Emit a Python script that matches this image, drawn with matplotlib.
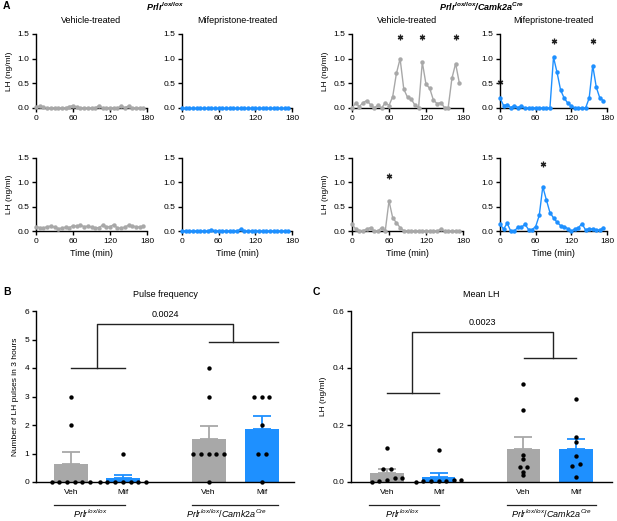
import numpy as np
import matplotlib.pyplot as plt
from matplotlib.ticker import FormatStrFormatter

plt.rcParams['font.family'] = ['Liberation Sans', 'DejaVu Sans']
plt.rcParams['mathtext.fontset'] = 'custom'
plt.rcParams['mathtext.rm'] = 'Liberation Sans'
plt.rcParams['mathtext.it'] = 'Liberation Sans:italic'
plt.rcParams['mathtext.bf'] = 'Liberation Sans:bold'
plt.rcParams['mathtext.bfit'] = 'Liberation Sans:bold:italic'
plt.rcParams['font.size'] = 6
plt.rcParams['axes.linewidth'] = 1.0

GRAY = '#a8a8a8'
BLUE = '#1e90ff'

# ---- A: LH profiles (sampled every 6 min) ----
time_min = [0, 6, 12, 18, 24, 30, 36, 42, 48, 54, 60, 66, 72, 78, 84,
            90, 96, 102, 108, 114, 120, 126, 132, 138, 144, 150, 156, 162, 168, 174]

lh_ctrl_veh_1 = [0.02, 0.04, 0.02, 0, 0, 0, 0, 0, 0, 0.03, 0.05, 0.02, 0, 0, 0,
                 0, 0, 0.05, 0, 0, 0, 0, 0, 0.04, 0.01, 0.04, 0, 0, 0, 0]
lh_ctrl_mif_1 = [0, 0, 0, 0, 0, 0, 0, 0, 0, 0, 0, 0, 0, 0, 0,
                 0, 0, 0, 0, 0, 0, 0, 0, 0, 0, 0, 0, 0, 0, 0]
lh_cre_veh_1 = [0.0, 0.10, 0.03, 0.11, 0.15, 0.07, 0.0, 0.06, 0.0, 0.11, 0.05, 0.23, 0.70, 1.00, 0.38,
                0.22, 0.18, 0.06, 0.01, 0.93, 0.48, 0.40, 0.16, 0.09, 0.11, 0.01, 0.01, 0.60, 0.90, 0.51]
lh_cre_mif_1 = [0.20, 0.05, 0.07, 0.01, 0.05, 0.01, 0.04, 0, 0, 0, 0, 0, 0, 0, 0,
                1.03, 0.72, 0.36, 0.20, 0.10, 0.04, 0, 0, 0, 0, 0.20, 0.86, 0.42, 0.20, 0.15]

lh_ctrl_veh_2 = [0.09, 0.07, 0.06, 0.09, 0.10, 0.08, 0.05, 0.06, 0.08, 0.07, 0.11, 0.10, 0.12, 0.09, 0.10,
                 0.08, 0.06, 0.07, 0.12, 0.09, 0.09, 0.13, 0.06, 0.06, 0.08, 0.12, 0.10, 0.09, 0.08, 0.10]
lh_ctrl_mif_2 = [0, 0, 0, 0, 0, 0, 0, 0, 0.03, 0, 0, 0, 0, 0, 0,
                 0, 0.04, 0, 0, 0, 0, 0, 0, 0, 0, 0, 0, 0, 0, 0]
lh_cre_veh_2 = [0.14, 0.04, 0.01, 0.01, 0.04, 0.07, 0, 0, 0.07, 0.01, 0.62, 0.27, 0.17, 0.07, 0.01,
                0, 0, 0, 0, 0, 0, 0, 0, 0, 0.04, 0, 0, 0, 0, 0]
lh_cre_mif_2 = [0.14, 0.04, 0.16, 0.0, 0.0, 0.075, 0.075, 0.14, 0.03, 0.03, 0.09, 0.32, 0.91, 0.64, 0.38,
                0.27, 0.18, 0.11, 0.09, 0.05, 0.0, 0.04, 0.07, 0.15, 0.02, 0.05, 0.04, 0.02, 0.02, 0.07]

# detected pulses (time, asterisk height)
pulse_t_cre_veh_1 = [78, 114, 168]
pulse_y_cre_veh_1 = [1.43, 1.43, 1.43]
pulse_t_cre_mif_1 = [0, 90, 156]
pulse_y_cre_mif_1 = [0.53, 1.36, 1.36]
pulse_t_cre_veh_2 = [60]
pulse_y_cre_veh_2 = [1.13]
pulse_t_cre_mif_2 = [72]
pulse_y_cre_mif_2 = [1.38]

# ---- B: pulse frequency ----
bar_labels = ['Veh', 'Mif', 'Veh', 'Mif']
pulses_ctrl_veh = [3, 2, 0, 0, 0, 0, 0, 0]
pulses_ctrl_mif = [1, 0, 0, 0, 0, 0, 0, 0]
pulses_cre_veh = [4, 3, 1, 1, 1, 1, 1, 0]
pulses_cre_mif = [3, 3, 3, 2, 1, 1, 0]

# ---- C: mean LH (ng/ml) ----
meanlh_ctrl_veh = [0.12, 0.044, 0.044, 0.006, 0.013, 0.0, 0.013, 0.005]
meanlh_ctrl_mif = [0.114, 0.008, 0.004, 0.006, 0.003, 0.005, 0.002, 0.001]
meanlh_cre_veh = [0.343, 0.253, 0.094, 0.079, 0.053, 0.053, 0.035, 0.023]
meanlh_cre_mif = [0.291, 0.157, 0.14, 0.091, 0.062, 0.056, 0.016]

p_pulse = '0.0024'
p_mean = '0.0023'

W, H = 617, 521
fig = plt.figure(figsize=(W / 100, H / 100), dpi=100)


def px_axes(x0, y0, x1, y1):
    return fig.add_axes([x0 / W, 1 - y1 / H, (x1 - x0) / W, (y1 - y0) / H])


def style(ax):
    ax.spines['top'].set_visible(False)
    ax.spines['right'].set_visible(False)
    ax.tick_params(length=3, width=1, pad=2, labelsize=6)


def lh_panel(ax, vals, color, title=None, ylabel=False, xlabel=False,
             star_t=None, star_y=None):
    ax.plot(time_min, vals, '-o', color=color, ms=3.2, lw=1, mew=0, clip_on=False, zorder=3)
    if star_t:
        ax.plot(star_t, star_y, ls='none', marker=(6, 2, 0), ms=4, mew=0.9,
                color='#222222', clip_on=False)
    ax.set_xlim(0, 180)
    ax.set_ylim(0, 1.5)
    ax.set_xticks([0, 60, 120, 180])
    ax.set_yticks([0, 0.5, 1.0, 1.5])
    ax.yaxis.set_major_formatter(FormatStrFormatter('%.1f'))
    style(ax)
    if title:
        ax.set_title(title, fontsize=6.5, pad=8)
    if ylabel:
        ax.set_ylabel('LH (ng/ml)', fontsize=6, labelpad=3)
    if xlabel:
        ax.set_xlabel('Time (min)', fontsize=6.5, labelpad=3)


cols = [(36, 147), (182, 292), (352, 463), (500, 607)]
rows = [(34, 108), (158, 231)]
series = [
    [(lh_ctrl_veh_1, GRAY, None, None), (lh_ctrl_mif_1, BLUE, None, None),
     (lh_cre_veh_1, GRAY, pulse_t_cre_veh_1, pulse_y_cre_veh_1),
     (lh_cre_mif_1, BLUE, pulse_t_cre_mif_1, pulse_y_cre_mif_1)],
    [(lh_ctrl_veh_2, GRAY, None, None), (lh_ctrl_mif_2, BLUE, None, None),
     (lh_cre_veh_2, GRAY, pulse_t_cre_veh_2, pulse_y_cre_veh_2),
     (lh_cre_mif_2, BLUE, pulse_t_cre_mif_2, pulse_y_cre_mif_2)],
]
titles = ['Vehicle-treated', 'Mifepristone-treated', 'Vehicle-treated', 'Mifepristone-treated']
for r, (y0, y1) in enumerate(rows):
    for c, (x0, x1) in enumerate(cols):
        ax = px_axes(x0, y0, x1, y1)
        vals, color, st, sy = series[r][c]
        lh_panel(ax, vals, color, title=titles[c] if r == 0 else None,
                 ylabel=(c in (0, 2)), xlabel=(r == 1), star_t=st, star_y=sy)

fig.text(165 / W, 1 - 7 / H, r'$\mathbfit{Prlr}^{\mathbfit{lox/lox}}$', ha='center', va='center', fontsize=6.5)
fig.text(482 / W, 1 - 7 / H, r'$\mathbfit{Prlr}^{\mathbfit{lox/lox}}\mathbfit{/Camk2a}^{\mathbfit{Cre}}$',
         ha='center', va='center', fontsize=6.5)


def swarm(values, px_per_unit, spacing, tol_px=3.0):
    # group near-equal values into rows and center each row horizontally
    values = np.asarray(values, dtype=float)
    order = np.argsort(values)
    offsets = np.zeros(len(values))
    groups, cur = [], [order[0]]
    for a, b in zip(order[:-1], order[1:]):
        if (values[b] - values[a]) * px_per_unit < tol_px:
            cur.append(b)
        else:
            groups.append(cur)
            cur = [b]
    groups.append(cur)
    for g in groups:
        n = len(g)
        for k, idx in enumerate(g):
            offsets[idx] = (k - (n - 1) / 2) * spacing
    return offsets


def bar_panel(ax, groups, ymax, yticks, yfmt, ylabel, title, brackets, ptext,
              grp_lines, grp_centers, xlim):
    pos = [0, 1, 2.65, 3.67]
    colors = [GRAY, BLUE, GRAY, BLUE]
    px_per_unit = 171 / ymax
    for x, vals, col in zip(pos, groups, colors):
        vals = np.asarray(vals, dtype=float)
        m = vals.mean()
        sem = vals.std(ddof=1) / np.sqrt(len(vals))
        ax.bar(x, m, width=0.65, color=col, zorder=1)
        ax.errorbar(x, m, yerr=[[0], [sem]], fmt='none', ecolor=col, elinewidth=1.3,
                    capsize=6.5, capthick=1.3, zorder=1)
        offs = swarm(vals, px_per_unit, 0.148)
        ax.scatter(x + offs, vals, s=10, color='black', lw=0, zorder=3, clip_on=False)
    # significance bracket
    (g1y, g1x0, g1x1, g1s), (g2y, g2x0, g2x1, g2s), top = brackets
    kw = dict(color='#222222', lw=1)
    ax.plot([g1x0, g1x1], [g1y, g1y], **kw)
    ax.plot([g1s, g1s, g2s, g2s], [g1y, top, top, g2y], **kw)
    ax.plot([g2x0, g2x1], [g2y, g2y], **kw)
    ax.text((g1s + g2s) / 2, top + ymax * 0.055, ptext, ha='center', va='center', fontsize=6.5)

    ax.set_xlim(*xlim)
    ax.set_ylim(0, ymax)
    ax.set_yticks(yticks)
    ax.yaxis.set_major_formatter(FormatStrFormatter(yfmt))
    ax.set_xticks(pos)
    ax.set_xticklabels(bar_labels, fontsize=6.5)
    style(ax)
    ax.tick_params(axis='x', length=0, pad=5)
    ax.set_ylabel(ylabel, fontsize=6, labelpad=4)
    ax.set_title(title, fontsize=6.5, pad=10)

    tr = ax.get_xaxis_transform()
    for (a, b), xc, lab in zip(grp_lines, grp_centers,
                               [r'$\mathit{Prlr}^{\mathit{lox/lox}}$',
                                r'$\mathit{Prlr}^{\mathit{lox/lox}}\mathit{/Camk2a}^{\mathit{Cre}}$']):
        ax.plot([a, b], [-0.135, -0.135], color='#222222', lw=0.9, transform=tr, clip_on=False)
        ax.text(xc, -0.225, lab, ha='center', va='bottom', fontsize=6.5, transform=tr)


axB = px_axes(36, 311, 294, 482)
bar_panel(axB, [pulses_ctrl_veh, pulses_ctrl_mif, pulses_cre_veh, pulses_cre_mif],
          6, [0, 1, 2, 3, 4, 5, 6], '%d', 'Number of LH pulses in 3 hours', 'Pulse frequency',
          ((4.0, 0, 1.04, 0.5), (4.9, 2.65, 3.98, 3.12), 5.55), p_pulse,
          [(-0.33, 1.04), (2.33, 3.98)], [0.37, 3.0], (-0.67, 4.29))

axC = px_axes(351, 311, 612, 482)
bar_panel(axC, [meanlh_ctrl_veh, meanlh_ctrl_mif, meanlh_cre_veh, meanlh_cre_mif],
          0.6, [0, 0.2, 0.4, 0.6], '%.1f', 'LH (ng/ml)', 'Mean LH',
          ((0.313, 0, 1.0, 0.49), (0.435, 2.67, 3.67, 3.22), 0.527), p_mean,
          [(-0.35, 1.0), (2.33, 4.05)], [0.3, 3.2], (-0.7, 4.37))

fig.text(3 / W, 1 - 6 / H, 'A', fontsize=7.5, fontweight='bold', va='center')
fig.text(3 / W, 1 - 292 / H, 'B', fontsize=7.5, fontweight='bold', va='center')
fig.text(313 / W, 1 - 292 / H, 'C', fontsize=7.5, fontweight='bold', va='center')

fig.savefig('out.png', dpi=100)
